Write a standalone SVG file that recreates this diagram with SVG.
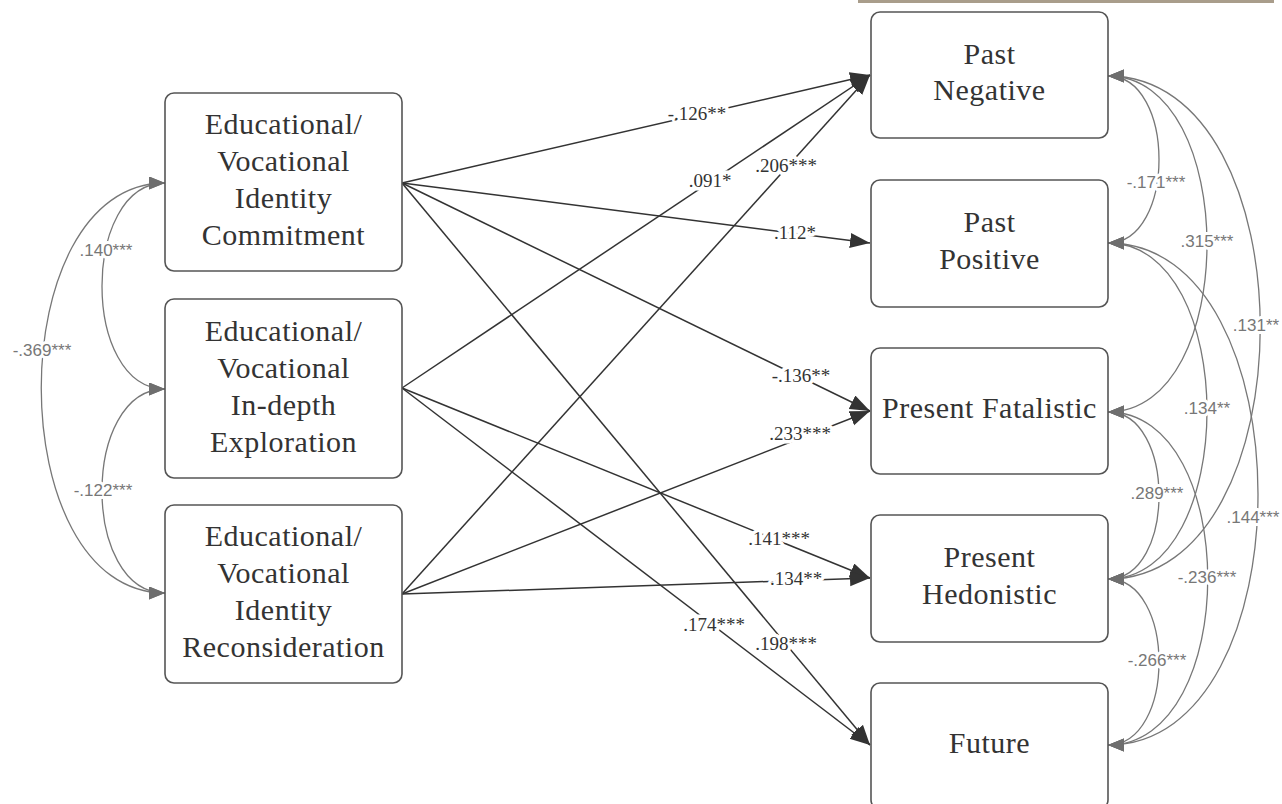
<svg xmlns="http://www.w3.org/2000/svg" width="1282" height="804" viewBox="0 0 1282 804">
<style>
.box{fill:#fff;stroke:#555;stroke-width:1.6}
.nt{font-family:"Liberation Serif","Times New Roman",serif;font-size:30px;letter-spacing:0.5px;fill:#333;text-anchor:middle}
.path{fill:none;stroke:#333;stroke-width:1.5}
.cov{fill:none;stroke:#777;stroke-width:1.3}
.pl{font-family:"Liberation Serif","Times New Roman",serif;font-size:19px;fill:#333;text-anchor:middle;stroke:#fff;stroke-width:7;paint-order:stroke;stroke-linejoin:round}
.cl{font-family:"Liberation Sans",Arial,sans-serif;font-size:17px;fill:#777;text-anchor:middle;stroke:#fff;stroke-width:6;paint-order:stroke;stroke-linejoin:round}
</style>
<defs>
<marker id="ab" markerUnits="userSpaceOnUse" markerWidth="21" markerHeight="16" refX="20" refY="7.5" orient="auto" viewBox="0 0 21 16">
<path d="M0,0 L20,7.5 L0,15 Z" fill="#333"/>
</marker>
<marker id="ag" markerUnits="userSpaceOnUse" markerWidth="17" markerHeight="14" refX="16" refY="6.5" orient="auto-start-reverse" viewBox="0 0 17 14">
<path d="M0,0 L16,6.5 L0,13 Z" fill="#6e6e6e"/>
</marker>
</defs>
<rect x="858" y="0" width="416" height="3" fill="#a99d8b"/>

<g id="connectors">
<g id="covariances-left">
<path class="cov" d="M165,183 C81,183 81,389 165,389" marker-start="url(#ag)" marker-end="url(#ag)"/>
<path class="cov" d="M165,389 C81,389 81,593 165,593" marker-start="url(#ag)" marker-end="url(#ag)"/>
<path class="cov" d="M165,183 C0,183 0,593 165,593" marker-start="url(#ag)" marker-end="url(#ag)"/>
</g>
<g id="covariances-right">
<path class="cov" d="M1108,76 C1176,76 1176,243 1108,243" marker-start="url(#ag)" marker-end="url(#ag)"/>
<path class="cov" d="M1108,76 C1240,76 1240,412 1108,412" marker-start="url(#ag)" marker-end="url(#ag)"/>
<path class="cov" d="M1108,76 C1311,76 1311,579 1108,579" marker-start="url(#ag)" marker-end="url(#ag)"/>
<path class="cov" d="M1108,243 C1240,243 1240,579 1108,579" marker-start="url(#ag)" marker-end="url(#ag)"/>
<path class="cov" d="M1108,243 C1308,243 1308,745 1108,745" marker-start="url(#ag)" marker-end="url(#ag)"/>
<path class="cov" d="M1108,412 C1176,412 1176,579 1108,579" marker-start="url(#ag)" marker-end="url(#ag)"/>
<path class="cov" d="M1108,412 C1241,412 1241,745 1108,745" marker-start="url(#ag)" marker-end="url(#ag)"/>
<path class="cov" d="M1108,579 C1176,579 1176,745 1108,745" marker-start="url(#ag)" marker-end="url(#ag)"/>
</g>
<g id="paths">
<line class="path" x1="402" y1="183" x2="870" y2="75" marker-end="url(#ab)"/>
<line class="path" x1="402" y1="183" x2="870" y2="243" marker-end="url(#ab)"/>
<line class="path" x1="402" y1="183" x2="870" y2="411" marker-end="url(#ab)"/>
<line class="path" x1="402" y1="183" x2="870" y2="745" marker-end="url(#ab)"/>
<line class="path" x1="402" y1="388" x2="870" y2="75" marker-end="url(#ab)"/>
<line class="path" x1="402" y1="388" x2="870" y2="578" marker-end="url(#ab)"/>
<line class="path" x1="402" y1="388" x2="870" y2="745" marker-end="url(#ab)"/>
<line class="path" x1="402" y1="594" x2="870" y2="75" marker-end="url(#ab)"/>
<line class="path" x1="402" y1="594" x2="870" y2="411" marker-end="url(#ab)"/>
<line class="path" x1="402" y1="594" x2="870" y2="578" marker-end="url(#ab)"/>
</g>
<g id="labels">
<text class="pl" x="697" y="120">-.126**</text>
<text class="pl" x="795" y="239">.112*</text>
<text class="pl" x="710" y="187">.091*</text>
<text class="pl" x="786" y="172">.206***</text>
<text class="pl" x="801" y="382">-.136**</text>
<text class="pl" x="800" y="440">.233***</text>
<text class="pl" x="779" y="545">.141***</text>
<text class="pl" x="796" y="585">.134**</text>
<text class="pl" x="714" y="631">.174***</text>
<text class="pl" x="786" y="650">.198***</text>
<text class="cl" x="106" y="256">.140***</text>
<text class="cl" x="42" y="356">-.369***</text>
<text class="cl" x="103" y="496">-.122***</text>
<text class="cl" x="1156" y="188">-.171***</text>
<text class="cl" x="1207" y="247">.315***</text>
<text class="cl" x="1256" y="331">.131**</text>
<text class="cl" x="1207" y="414">.134**</text>
<text class="cl" x="1253" y="523">.144***</text>
<text class="cl" x="1157" y="499">.289***</text>
<text class="cl" x="1207" y="583">-.236***</text>
<text class="cl" x="1157" y="666">-.266***</text>
</g>
</g>

<g id="node-commitment">
<rect class="box" x="165" y="93" width="237" height="178" rx="9"/>
<text class="nt" x="283.5" y="134">Educational/</text>
<text class="nt" x="283.5" y="171">Vocational</text>
<text class="nt" x="283.5" y="208">Identity</text>
<text class="nt" x="283.5" y="245">Commitment</text>
</g>
<g id="node-exploration">
<rect class="box" x="165" y="299" width="237" height="179" rx="9"/>
<text class="nt" x="283.5" y="341">Educational/</text>
<text class="nt" x="283.5" y="378">Vocational</text>
<text class="nt" x="283.5" y="415">In-depth</text>
<text class="nt" x="283.5" y="452">Exploration</text>
</g>
<g id="node-reconsideration">
<rect class="box" x="165" y="505" width="237" height="178" rx="9"/>
<text class="nt" x="283.5" y="546">Educational/</text>
<text class="nt" x="283.5" y="583">Vocational</text>
<text class="nt" x="283.5" y="620">Identity</text>
<text class="nt" x="283.5" y="657">Reconsideration</text>
</g>
<g id="node-past-negative">
<rect class="box" x="871" y="12" width="237" height="126" rx="9"/>
<text class="nt" x="989.5" y="64">Past</text>
<text class="nt" x="989.5" y="100">Negative</text>
</g>
<g id="node-past-positive">
<rect class="box" x="871" y="180" width="237" height="127" rx="9"/>
<text class="nt" x="989.5" y="232">Past</text>
<text class="nt" x="989.5" y="269">Positive</text>
</g>
<g id="node-present-fatalistic">
<rect class="box" x="871" y="348" width="237" height="126" rx="9"/>
<text class="nt" x="989.5" y="418">Present Fatalistic</text>
</g>
<g id="node-present-hedonistic">
<rect class="box" x="871" y="515" width="237" height="127" rx="9"/>
<text class="nt" x="989.5" y="567">Present</text>
<text class="nt" x="989.5" y="604">Hedonistic</text>
</g>
<g id="node-future">
<rect class="box" x="871" y="683" width="237" height="126" rx="9"/>
<text class="nt" x="989.5" y="753">Future</text>
</g>
</svg>
